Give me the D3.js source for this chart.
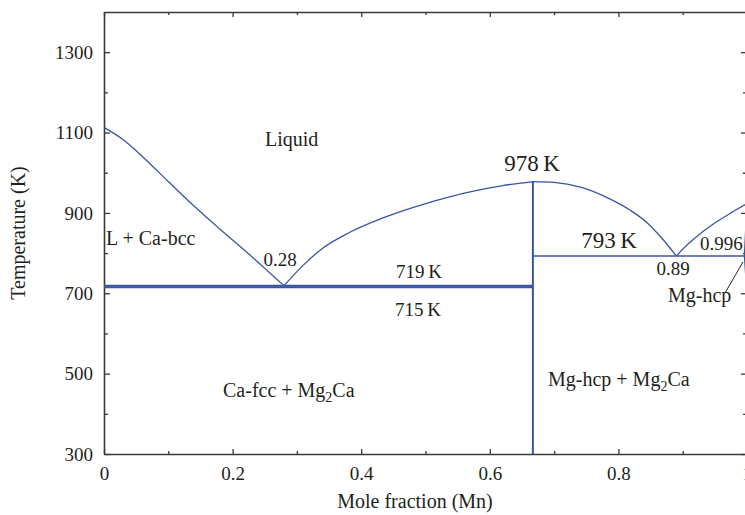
<!DOCTYPE html>
<html>
<head>
<meta charset="utf-8">
<script src="https://cdn.jsdelivr.net/npm/d3@7/dist/d3.min.js"></script>
<style>
  html, body { margin: 0; padding: 0; background: #fff; }
  svg text { font-family: "Liberation Serif", "DejaVu Serif", serif; }
</style>
</head>
<body>
<svg id="chart" width="745" height="515"></svg>
<script>
// Mg–Ca phase diagram: composition (mole fraction) vs temperature (K)

// Liquidus, Ca side down to the first eutectic
const liquidusCaSide = [[0, 1113], [0.03, 1082], [0.06, 1040], [0.10, 978], [0.14, 917], [0.18, 860], [0.22, 805], [0.25, 762], [0.28, 719]];
// Liquidus from the first eutectic up to the congruent melting point of Mg2Ca
const liquidusMg2CaLeft = [[0.28, 719], [0.31, 770], [0.34, 812], [0.38, 850], [0.43, 885], [0.48, 913], [0.53, 937], [0.58, 956], [0.62, 968], [0.667, 978]];
// Liquidus from Mg2Ca down to the second eutectic
const liquidusMg2CaRight = [[0.667, 978], [0.70, 976], [0.741, 964], [0.78, 940], [0.819, 906], [0.845, 875], [0.866, 840], [0.89, 793]];
// Liquidus from the second eutectic up to pure Mg
const liquidusMgSide = [[0.89, 793], [0.91, 825], [0.93, 852], [0.95, 875], [0.975, 900], [1.0, 923]];
// Mg-hcp solidus and solvus
const mgSolidus = [[0.996, 793], [0.998, 860], [1.0, 923]];
const mgSolvus = [[0.996, 793], [0.998, 745], [1.0, 700]];

// Invariant lines
const eutectic1Temps = [719, 715];
const eutectic1Range = [0, 0.667];
const eutectic2Temp = 793;
const eutectic2Range = [0.667, 1.0];
const compoundX = 0.667;
const compoundTmax = 978;

// Ticks
const xMajorTicks = [0, 0.2, 0.4, 0.6, 0.8, 1];
const xTickLabels = ["0", "0.2", "0.4", "0.6", "0.8", "1"];
const xMinorTicks = [0.1, 0.3, 0.5, 0.7, 0.9];
const yMajorTicks = [300, 500, 700, 900, 1100, 1300];
const yTickLabels = ["300", "500", "700", "900", "1100", "1300"];
const yMinorTicks = [400, 600, 800, 1000, 1200];

const lineColor = "#3b53a4";
const inkColor = "#231f20";
const axisColor = "#3a3a3a";
const serif = "Liberation Serif, DejaVu Serif, serif";

const svg = d3.select("#chart");
const plotLeft = 104, plotRight = 747, plotTop = 12, plotBottom = 454;

const x = d3.scaleLinear().domain([0, 1]).range([plotLeft, plotRight]);
const y = d3.scaleLinear().domain([300, 1400]).range([plotBottom, plotTop]);

// Axes (ticks point inward on all four sides)
function styleAxis(g) {
  g.attr("font-family", serif);
  g.selectAll("path.domain").attr("stroke", axisColor).attr("stroke-width", 1.6);
  g.selectAll(".tick line").attr("stroke", axisColor).attr("stroke-width", 1.3);
  g.selectAll(".tick text").attr("fill", inkColor).attr("font-family", serif).style("font-size", "19px");
}

const gx = svg.append("g").attr("transform", `translate(0,${plotBottom})`)
  .call(d3.axisBottom(x).tickValues(xMajorTicks).tickFormat((d, i) => xTickLabels[i])
    .tickSizeInner(-5).tickSizeOuter(0).tickPadding(13));
styleAxis(gx);
svg.append("g").attr("transform", `translate(0,${plotBottom})`)
  .call(d3.axisBottom(x).tickValues(xMinorTicks).tickFormat("").tickSizeInner(-3).tickSizeOuter(0))
  .call(g => { g.select("path.domain").remove(); styleAxis(g); });

const gxt = svg.append("g").attr("transform", `translate(0,${plotTop})`)
  .call(d3.axisTop(x).tickValues(xMajorTicks).tickFormat("").tickSizeInner(-5).tickSizeOuter(0));
styleAxis(gxt);
svg.append("g").attr("transform", `translate(0,${plotTop})`)
  .call(d3.axisTop(x).tickValues(xMinorTicks).tickFormat("").tickSizeInner(-3).tickSizeOuter(0))
  .call(g => { g.select("path.domain").remove(); styleAxis(g); });

const gy = svg.append("g").attr("transform", `translate(${plotLeft},0)`)
  .call(d3.axisLeft(y).tickValues(yMajorTicks).tickFormat((d, i) => yTickLabels[i])
    .tickSizeInner(-6).tickSizeOuter(0).tickPadding(11));
styleAxis(gy);
svg.append("g").attr("transform", `translate(${plotLeft},0)`)
  .call(d3.axisLeft(y).tickValues(yMinorTicks).tickFormat("").tickSizeInner(-4).tickSizeOuter(0))
  .call(g => { g.select("path.domain").remove(); styleAxis(g); });

const gyr = svg.append("g").attr("transform", `translate(${plotRight},0)`)
  .call(d3.axisRight(y).tickValues(yMajorTicks).tickFormat("").tickSizeInner(-6).tickSizeOuter(0));
styleAxis(gyr);
svg.append("g").attr("transform", `translate(${plotRight},0)`)
  .call(d3.axisRight(y).tickValues(yMinorTicks).tickFormat("").tickSizeInner(-4).tickSizeOuter(0))
  .call(g => { g.select("path.domain").remove(); styleAxis(g); });

// Axis titles
svg.append("text").attr("x", 415).attr("y", 508).attr("text-anchor", "middle")
  .attr("font-family", serif).attr("fill", inkColor).style("font-size", "20px").text("Mole fraction (Mn)");
svg.append("text").attr("transform", `translate(25,${(plotTop + plotBottom) / 2}) rotate(-90)`)
  .attr("text-anchor", "middle").attr("font-family", serif).attr("fill", inkColor).style("font-size", "20px")
  .text("Temperature (K)");

// Phase boundaries
const plot = svg.append("g");
const curve = d3.line().x(d => x(d[0])).y(d => y(d[1])).curve(d3.curveMonotoneX);
const straight = d3.line().x(d => x(d[0])).y(d => y(d[1]));

[liquidusCaSide, liquidusMg2CaLeft, liquidusMg2CaRight, liquidusMgSide].forEach(pts => {
  plot.append("path").attr("d", curve(pts)).attr("fill", "none")
    .attr("stroke", lineColor).attr("stroke-width", 1.3);
});
[mgSolidus, mgSolvus].forEach(pts => {
  plot.append("path").attr("d", straight(pts)).attr("fill", "none")
    .attr("stroke", lineColor).attr("stroke-width", 1.3);
});

// Eutectic lines (719 K and 715 K lie close enough to merge into one band)
eutectic1Temps.forEach(t => {
  plot.append("path").attr("d", straight([[eutectic1Range[0], t], [eutectic1Range[1], t]]))
    .attr("stroke", lineColor).attr("stroke-width", 2).attr("fill", "none");
});
plot.append("path").attr("d", straight([[eutectic2Range[0], eutectic2Temp], [eutectic2Range[1], eutectic2Temp]]))
  .attr("stroke", lineColor).attr("stroke-width", 1.5).attr("fill", "none");

// Mg2Ca line compound
plot.append("path").attr("d", straight([[compoundX, compoundTmax], [compoundX, 300]]))
  .attr("stroke", lineColor).attr("stroke-width", 2).attr("fill", "none");

// Labels
function label(txt, px, py, size, anchor) {
  return svg.append("text").attr("x", px).attr("y", py).attr("text-anchor", anchor || "start")
    .attr("font-family", serif).attr("fill", inkColor).style("font-size", size + "px").text(txt);
}
label("Liquid", 265, 146, 20);
label("L + Ca-bcc", 106, 245, 20);
label("0.28", 280, 266, 19, "middle");
label("719\u2009K", 419, 278, 19, "middle");
label("715\u2009K", 418, 316, 19, "middle");
label("978\u2009K", 532, 171, 23, "middle");
label("793\u2009K", 609, 248, 23, "middle");
label("0.89", 673, 275, 19, "middle");
label("0.996", 700, 250, 19);
label("Mg-hcp", 668, 302, 20);

// Leader from the Mg-hcp label to the narrow single-phase region
svg.append("line").attr("x1", 725).attr("y1", 293).attr("x2", 743).attr("y2", 262)
  .attr("stroke", inkColor).attr("stroke-width", 1);

// Two-phase region labels with subscripts
function phaseLabel(px, py, parts) {
  const t = svg.append("text").attr("x", px).attr("y", py).attr("font-family", serif)
    .attr("fill", inkColor).style("font-size", "20px");
  parts.forEach(p => {
    if (p.sub) {
      t.append("tspan").attr("dy", 5).style("font-size", "14px").text(p.text);
    } else {
      t.append("tspan").attr("dy", p.back ? -5 : 0).text(p.text);
    }
  });
}
phaseLabel(223, 397, [{ text: "Ca-fcc + Mg" }, { text: "2", sub: true }, { text: "Ca", back: true }]);
phaseLabel(548, 386, [{ text: "Mg-hcp + Mg" }, { text: "2", sub: true }, { text: "Ca", back: true }]);
</script>
</body>
</html>
